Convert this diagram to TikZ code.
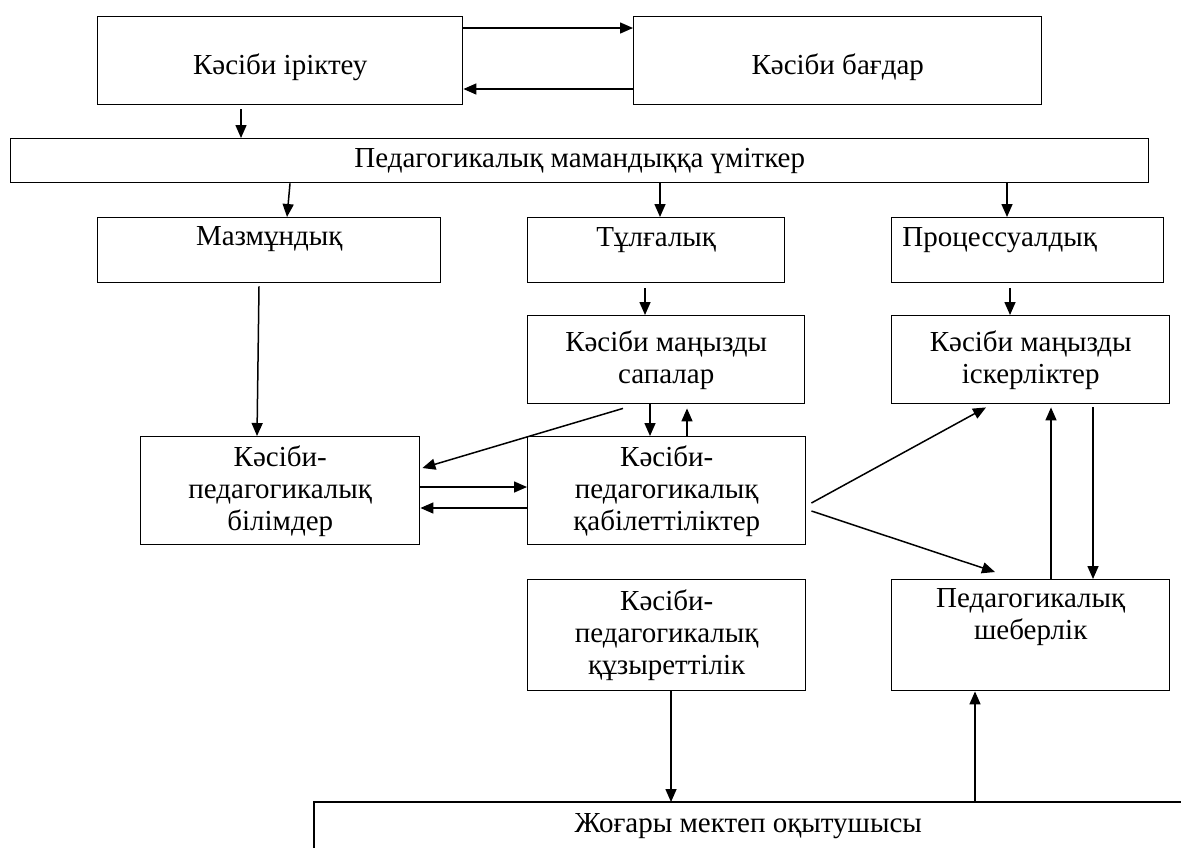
\documentclass[tikz,border=0pt]{standalone}
\usepackage{fontspec}
\setmainfont{Liberation Serif}
\usetikzlibrary{arrows.meta,calc}
\tikzset{
  base/.style={draw, line width=0.7pt, inner sep=0pt, anchor=north west, font=\fontsize{14.5}{16}\selectfont},
  one/.style={base},
  multi/.style={base, align=center},
  arr/.style={line width=0.75pt, -{Triangle[length=6.5pt,width=5.5pt]}},
}
\begin{document}
\begin{tikzpicture}[x=0.5pt,y=-0.5pt]
\useasboundingbox (0,0) rectangle (1181,847);
% boxes
\node[one, minimum width=182.5pt, text height=29pt, text depth=15pt] (irik) at (97,16) {Кәсіби іріктеу};
\node[one, minimum width=204pt, text height=29pt, text depth=15pt] (bagdar) at (633,16) {Кәсіби бағдар};
\node[one, minimum width=569pt, text height=14.5pt, text depth=7.5pt] (wide) at (10,138) {Педагогикалық мамандыққа үміткер};
\node[one, minimum width=171.5pt, text height=14pt, text depth=18.5pt] (maz) at (97,217) {Мазмұндық};
\node[one, minimum width=128.5pt, text height=14.5pt, text depth=18pt] (tulga) at (527,217) {Тұлғалық};
\node[one, minimum width=136pt, text height=14.5pt, text depth=18pt] (proc) at (891,217) {Процессуалдық\hspace*{28pt}};
\node[multi, minimum width=138.5pt, minimum height=44pt] (sapa) at (527,315) {Кәсіби маңызды\\сапалар};
\node[multi, minimum width=139pt, minimum height=44pt] (isker) at (891,315) {Кәсіби маңызды\\іскерліктер};
\node[multi, minimum width=139.5pt, minimum height=54pt] (bilim) at (140,436) {Кәсіби-\\педагогикалық\\білімдер};
\node[multi, minimum width=139pt, minimum height=54pt] (qabil) at (527,436) {Кәсіби-\\педагогикалық\\қабілеттіліктер};
\node[multi, minimum width=139pt, minimum height=55.5pt] (quzyr) at (527,579) {Кәсіби-\\педагогикалық\\құзыреттілік};
\node[multi, minimum width=139pt, minimum height=55.5pt] (sheber) at (891,579) {Педагогикалық\\шеберлік\\\strut};
\node[one, draw=none, minimum width=433.5pt, text height=15pt, text depth=7.5pt] (jog) at (314,802) {Жоғары мектеп оқытушысы};
\draw[line width=0.7pt] (jog.south west) -- (jog.north west) -- (jog.north east);
% connectors
\draw[arr] ($(irik.north east)+(0,12)$) -- ($(bagdar.north west)+(0,12)$);
\draw[arr] ($(bagdar.north west)+(0,73)$) -- ($(irik.north east)+(0,73)$);
\draw[arr] ($(irik.south west)+(144,4)$) -- ($(wide.north west)+(231,0)$);
\draw[arr] ($(wide.south west)+(280,0)$) -- ($(maz.north west)+(190,0)$);
\draw[arr] ($(wide.south west)+(650,0)$) -- ($(tulga.north west)+(133,0)$);
\draw[arr] ($(wide.south west)+(997,0)$) -- ($(proc.north west)+(116,0)$);
\draw[arr] ($(maz.south west)+(162,3)$) -- ($(bilim.north west)+(117,0)$);
\draw[arr] ($(tulga.south west)+(118,5)$) -- ($(sapa.north west)+(118,0)$);
\draw[arr] ($(proc.south west)+(119,5)$) -- ($(isker.north west)+(119,0)$);
\draw[arr] ($(sapa.south west)+(96,4)$) -- ($(bilim.north east)+(2,32)$);
\draw[arr] ($(sapa.south west)+(123,0)$) -- ($(qabil.north west)+(123,0)$);
\draw[arr] ($(qabil.north west)+(160,0)$) -- ($(sapa.south west)+(160,4)$);
\draw[arr] ($(bilim.north east)+(0,51)$) -- ($(qabil.north west)+(0,51)$);
\draw[arr] ($(qabil.north west)+(0,72)$) -- ($(bilim.north east)+(0,72)$);
\draw[arr] ($(qabil.north east)+(5,67)$) -- ($(isker.south west)+(95,3)$);
\draw[arr] ($(qabil.north east)+(5,75)$) -- ($(sheber.north west)+(104,-7)$);
\draw[arr] ($(sheber.north west)+(160,0)$) -- ($(isker.south west)+(160,3)$);
\draw[arr] ($(isker.south west)+(202,3)$) -- ($(sheber.north west)+(202,0)$);
\draw[arr] ($(quzyr.south west)+(144,0)$) -- ($(jog.north west)+(357,0)$);
\draw[arr] ($(jog.north west)+(661,0)$) -- ($(sheber.south west)+(84,0)$);
\end{tikzpicture}
\end{document}
